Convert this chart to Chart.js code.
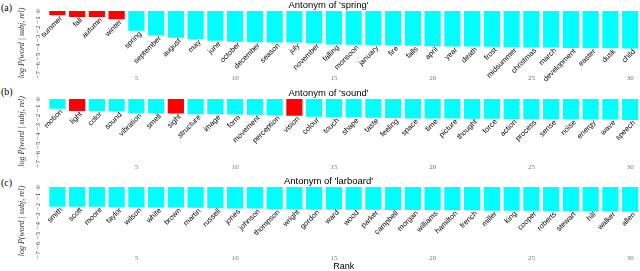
<!DOCTYPE html>
<html>
<head>
<meta charset="utf-8">
<script src="https://cdn.jsdelivr.net/npm/chart.js@4/dist/chart.umd.min.js"></script>
<style>
  html, body { margin: 0; padding: 0; background: #fff; width: 640px; height: 271px; overflow: hidden; }
  canvas { position: absolute; left: 0; display: block; }
  .lettre { position: absolute; left: 1px; font: 10px "Liberation Serif", serif; color: #000; }
</style>
</head>
<body>
<div class="lettre" style="top:2px">(a)</div>
<div class="lettre" style="top:86px">(b)</div>
<div class="lettre" style="top:177px">(c)</div>
<canvas id="grapheA" width="640" height="85" style="top:0px"></canvas>
<canvas id="grapheB" width="640" height="86" style="top:88px"></canvas>
<canvas id="grapheC" width="640" height="95" style="top:176px"></canvas>
<script>
  // Rangs affichés sur l'axe horizontal (seuls les multiples de 5 sont écrits).
  const rangs = [1, 2, 3, 4, 5, 6, 7, 8, 9, 10, 11, 12, 13, 14, 15, 16, 17, 18, 19, 20,
                 21, 22, 23, 24, 25, 26, 27, 28, 29, 30];
  const graduationsY = [0, -1, -2, -3, -4, -5, -6, -7];

  // (a) Antonym of 'spring'
  const motsPrintemps = ['summer', 'fall', 'autumn', 'winter', 'spring', 'september', 'august', 'may', 'june', 'october',
    'december', 'season', 'july', 'november', 'falling', 'monsoon', 'january', 'fire', 'falls', 'april',
    'year', 'death', 'frost', 'midsummer', 'christmas', 'march', 'development', 'easter', 'dusk', 'child'];
  const valeursPrintemps = [-0.47, -0.67, -0.67, -0.9, -2.17, -2.67, -2.93, -3.1, -3.27, -3.37,
    -3.43, -3.47, -3.47, -3.53, -3.67, -3.7, -3.73, -3.77, -3.83, -3.87,
    -3.9, -3.9, -3.93, -3.97, -4.0, -4.0, -4.07, -4.1, -4.1, -4.13];
  const rougesPrintemps = ['summer', 'fall', 'autumn', 'winter'];

  // (b) Antonym of 'sound'
  const motsSon = ['motion', 'light', 'color', 'sound', 'vibration', 'smell', 'sight', 'structure', 'image', 'form',
    'movement', 'perception', 'vision', 'colour', 'touch', 'shape', 'taste', 'feeling', 'space', 'time',
    'picture', 'thought', 'force', 'action', 'process', 'sense', 'noise', 'energy', 'wave', 'speech'];
  const valeursSon = [-1.06, -1.31, -1.31, -1.37, -1.51, -1.55, -1.58, -1.65, -1.65, -1.68,
    -1.72, -1.75, -1.82, -1.92, -1.99, -1.99, -2.03, -2.06, -2.1, -2.1,
    -2.1, -2.13, -2.13, -2.16, -2.2, -2.2, -2.2, -2.23, -2.23, -2.27];
  const rougesSon = ['light', 'sight', 'vision'];

  // (c) Antonym of 'larboard'
  const motsBabord = ['smith', 'scott', 'moore', 'taylor', 'wilson', 'white', 'brown', 'martin', 'russell', 'jones',
    'johnson', 'thompson', 'wright', 'gordon', 'ward', 'wood', 'parker', 'campbell', 'morgan', 'williams',
    'hamilton', 'french', 'miller', 'king', 'cooper', 'roberts', 'stewart', 'hill', 'walker', 'allen'];
  const valeursBabord = [-2.05, -2.05, -2.05, -2.08, -2.08, -2.11, -2.11, -2.15, -2.18, -2.21,
    -2.21, -2.28, -2.28, -2.31, -2.31, -2.34, -2.34, -2.38, -2.38, -2.41,
    -2.41, -2.41, -2.44, -2.44, -2.44, -2.48, -2.48, -2.51, -2.51, -2.54];
  const rougesBabord = [];

  const ROUGE = '#ff0000';
  const CYAN = '#00ffff';

  // Petit plugin qui écrit chaque mot en biais sous le bout de sa barre.
  const etiquettesMots = {
    id: 'etiquettesMots',
    afterDatasetsDraw(chart, args, opts) {
      const ctx = chart.ctx;
      const meta = chart.getDatasetMeta(0);
      ctx.save();
      ctx.font = '7.5px "Liberation Sans", Arial, sans-serif';
      ctx.fillStyle = '#000';
      ctx.textAlign = 'right';
      ctx.textBaseline = 'middle';
      meta.data.forEach((barre, i) => {
        ctx.save();
        ctx.translate(barre.x + 4, barre.y + 2);
        ctx.rotate(-Math.PI / 4);
        ctx.fillText(opts.mots[i], 0, 0);
        ctx.restore();
      });
      ctx.restore();
    }
  };

  function creerGraphe(id, mots, valeurs, rouges, titre, avecRank) {
    return new Chart(document.getElementById(id), {
      type: 'bar',
      data: {
        labels: rangs,
        datasets: [{
          data: valeurs,
          backgroundColor: mots.map(m => rouges.includes(m) ? ROUGE : CYAN),
          borderWidth: 0,
          barPercentage: 0.82,
          categoryPercentage: 1
        }]
      },
      options: {
        responsive: false,
        animation: false,
        layout: { padding: { left: 17, right: 0, top: 0, bottom: 0 } },
        plugins: {
          legend: { display: false },
          tooltip: { enabled: false },
          title: {
            display: true,
            text: titre,
            color: '#000',
            font: { family: '"Liberation Sans", Arial, sans-serif', size: 9.5, weight: 'normal', lineHeight: 1.15 },
            padding: { top: 0, bottom: 0 }
          },
          etiquettesMots: { mots: mots }
        },
        scales: {
          x: {
            grid: { display: false, drawTicks: false },
            border: { display: false },
            ticks: {
              autoSkip: false,
              maxRotation: 0,
              padding: 0,
              color: '#777',
              font: { family: '"Liberation Serif", serif', size: 7, lineHeight: 1 },
              callback: (v, i) => rangs[i] % 5 === 0 ? String(rangs[i]) : ''
            },
            title: {
              display: avecRank,
              text: 'Rank',
              color: '#000',
              padding: 0,
              font: { family: '"Liberation Sans", Arial, sans-serif', size: 9, lineHeight: 1 }
            }
          },
          y: {
            min: graduationsY[graduationsY.length - 1],
            max: graduationsY[0],
            grid: { display: false, drawTicks: false },
            border: { display: false },
            ticks: {
              stepSize: 1,
              autoSkip: false,
              minRotation: 90,
              maxRotation: 90,
              crossAlign: 'center',
              padding: 6,
              color: '#444',
              font: { family: '"Liberation Serif", serif', size: 7 },
              callback: v => v === 0 ? '0' : '\u2212' + Math.abs(v)
            },
            title: {
              display: true,
              text: 'log P(word | subj, rel)',
              color: '#333',
              padding: { top: 0.5, bottom: 0 },
              font: { family: '"Liberation Serif", serif', size: 8, style: 'italic' }
            }
          }
        }
      },
      plugins: [etiquettesMots]
    });
  }

  creerGraphe('grapheA', motsPrintemps, valeursPrintemps, rougesPrintemps, "Antonym of 'spring'", false);
  creerGraphe('grapheB', motsSon, valeursSon, rougesSon, "Antonym of 'sound'", false);
  creerGraphe('grapheC', motsBabord, valeursBabord, rougesBabord, "Antonym of 'larboard'", true);
</script>
</body>
</html>
